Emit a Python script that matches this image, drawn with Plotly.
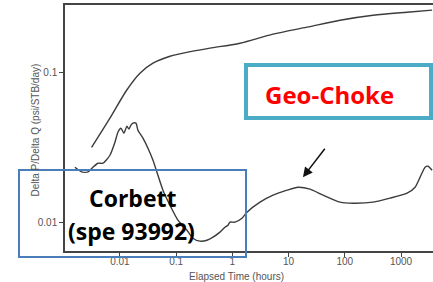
import math
import plotly.graph_objects as go

# Upper curve (Delta P / Delta Q) vs elapsed time (hours)
upper_t = [0.00313, 0.00664, 0.01315, 0.0227, 0.0387, 0.0776, 0.199, 0.399,
           1.365, 5.27, 21.2, 82.2, 318, 1280, 3565]
upper_v = [0.0314, 0.0492, 0.0756, 0.0982, 0.1145, 0.1274, 0.1377, 0.1443,
           0.1556, 0.1787, 0.199, 0.2215, 0.239, 0.2505, 0.2584]

# Lower curve (derivative)
lower_t = [0.00158, 0.002084, 0.0027, 0.00331, 0.00406, 0.00499, 0.00664, 0.00815,
           0.0092, 0.01042, 0.01178, 0.01333, 0.01446, 0.0157, 0.0170, 0.0193,
           0.0209, 0.0257, 0.0315, 0.0387, 0.0474, 0.0582, 0.0776, 0.1077,
           0.1556, 0.199, 0.265, 0.353, 0.452, 0.601, 0.738, 0.835, 0.906,
           1.112, 1.482, 1.82, 3.10, 5.28, 9.37, 14.7, 24.0, 40.9, 82.2, 140,
           318, 637, 1280, 1775, 2180, 2675, 3020, 3565]
lower_v = [0.02317, 0.02158, 0.02158, 0.02317, 0.02465, 0.02465, 0.02786, 0.0340,
           0.0397, 0.0422, 0.0391, 0.0435, 0.0416, 0.0442, 0.0456, 0.0456,
           0.0409, 0.0362, 0.0310, 0.0258, 0.0205, 0.0163, 0.01294, 0.01028,
           0.00881, 0.0078, 0.00745, 0.00756, 0.00792, 0.00856, 0.00923, 0.00953, 0.00998,
           0.00998, 0.0106, 0.01162, 0.01356, 0.0151, 0.0163, 0.01706, 0.01656, 0.0151, 0.01356, 0.01334,
           0.01356, 0.01442, 0.01557, 0.01706, 0.0199, 0.0232, 0.02355, 0.02213]

x_ticks = [0.01, 0.1, 1, 10, 100, 1000]
x_tick_labels = ["0.01", "0.1", "1", "10", "100", "1000"]
y_ticks = [0.01, 0.1]
y_tick_labels = ["0.01", "0.1"]

arrow_tip = (18.0, 0.0199)

line_color = "#3c3c3c"
fig = go.Figure()
fig.add_trace(go.Scatter(x=upper_t, y=upper_v, mode="lines",
                         line=dict(color=line_color, width=1.4, shape="spline", smoothing=0.8),
                         showlegend=False))
fig.add_trace(go.Scatter(x=lower_t, y=lower_v, mode="lines",
                         line=dict(color=line_color, width=1.4, shape="spline", smoothing=0.6),
                         showlegend=False))

W, H = 433, 282
L, R, T, B = 65, 0, 5, 31
pw, ph = W - L - R, H - T - B

def px(xp):
    return (xp - L) / pw

def py(yp):
    return (H - B - yp) / ph

fig.update_layout(
    width=W, height=H,
    margin=dict(l=L, r=R, t=T, b=B, autoexpand=False),
    paper_bgcolor="white", plot_bgcolor="white",
    font=dict(family="Liberation Sans, Arial, sans-serif", size=10, color="#555555"),
    xaxis=dict(type="log", range=[-2.977, 3.568], tickvals=x_ticks, ticktext=x_tick_labels,
               showgrid=False, zeroline=False, showline=True, linecolor="#444444",
               linewidth=1.5, mirror=True, ticks="outside", ticklen=4, tickcolor="#444444",
               tickfont=dict(size=10, color="#555555"), automargin=False,
               ticklabelstandoff=-4),
    yaxis=dict(type="log", range=[-2.1933, -0.5533], tickvals=y_ticks, ticktext=y_tick_labels,
               showgrid=False, zeroline=False, showline=True, linecolor="#444444",
               linewidth=1.5, ticks="outside", ticklen=4, tickcolor="#444444",
               tickfont=dict(size=10, color="#555555"), automargin=False),
)

# Boxes
fig.add_shape(type="rect", xref="paper", yref="paper",
              x0=px(19), x1=px(246), y0=py(257), y1=py(170),
              line=dict(color="#4a7ebb", width=2), fillcolor="rgba(0,0,0,0)", layer="above")
fig.add_shape(type="rect", xref="paper", yref="paper",
              x0=px(246), x1=px(431), y0=py(118), y1=py(65),
              line=dict(color="#4bacc6", width=4), fillcolor="white", layer="above")

anns = [
    dict(text="Geo-Choke", x=px(329.5), y=py(94),
         font=dict(family="Open Sans, sans-serif", size=24, color="#ff0000")),
    dict(text="Corbett", x=px(132.5), y=py(198),
         font=dict(family="Open Sans, sans-serif", size=23, color="#000000")),
    dict(text="(spe 93992)", x=px(131.5), y=py(231),
         font=dict(family="Open Sans, sans-serif", size=23, color="#000000")),
]
for a in anns:
    fig.add_annotation(text="<b>%s</b>" % a["text"], x=a["x"], y=a["y"], xref="paper", yref="paper",
                       showarrow=False, font=a["font"], xanchor="center", yanchor="middle")

fig.add_annotation(text="Delta P/Delta Q (psi/STB/day)", x=px(27), y=py(130), xref="paper", yref="paper",
                   showarrow=False, textangle=-90, font=dict(size=10, color="#555555"))
fig.add_annotation(text="Elapsed Time (hours)", x=px(236), y=py(284), xref="paper", yref="paper",
                   showarrow=False, font=dict(size=10, color="#555555"))

fig.add_annotation(x=math.log10(arrow_tip[0]), y=math.log10(arrow_tip[1]), xref="x", yref="y",
                   ax=23, ay=-30, showarrow=True, arrowhead=2, arrowsize=1.3,
                   arrowwidth=1.5, arrowcolor="#111111", text="")

fig.write_html("out.html", config={"displayModeBar": False},
               post_script="document.body.style.margin='0';")
